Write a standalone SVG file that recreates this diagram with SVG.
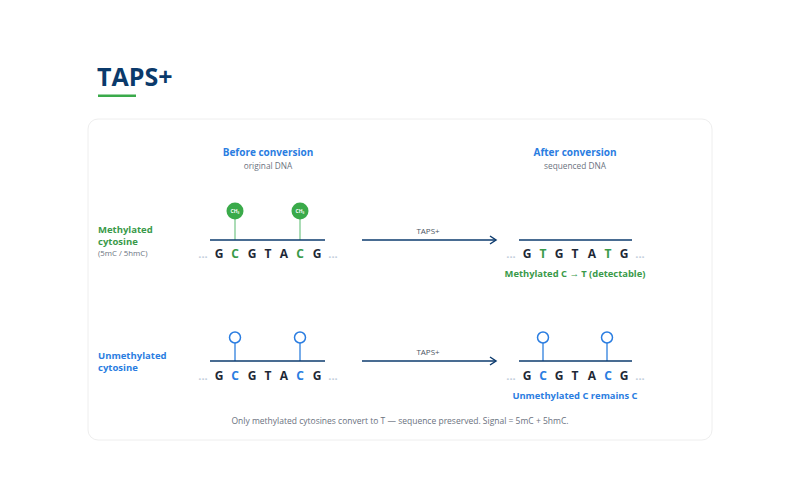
<svg xmlns="http://www.w3.org/2000/svg" width="800" height="500" viewBox="0 0 800 500">
<defs>
<style>
text{font-family:"Open Sans","Noto Sans","Liberation Sans",sans-serif}
.title{font-size:25px;font-weight:700;fill:#0b3a6b}
.head{font-size:10px;font-weight:700;fill:#2a7de1;text-anchor:middle}
.sub{font-size:8.3px;fill:#6b7280;text-anchor:middle}
.lblg{font-size:9.5px;font-weight:700;fill:#3a9a4a}
.lblb{font-size:9.5px;font-weight:700;fill:#2a7de1}
.small{font-size:7.8px;fill:#6b7280}
.base{font-size:12px;font-weight:700;fill:#1f2937;text-anchor:middle}
.bg{fill:#3a9a4a}
.bb{fill:#2a7de1}
.dots{font-size:11px;font-weight:700;fill:#c2cedb;text-anchor:middle}
.strand{stroke:#0d3b6e;stroke-width:1.5}
.stemg{stroke:#8fd19e;stroke-width:1.5}
.stemb{stroke:#4a90e2;stroke-width:1.5}
.ch3{fill:#3aaa4a}
.ch3t{font-size:5px;font-weight:700;fill:#fff;text-anchor:middle}
.open{fill:#fff;stroke:#2a7de1;stroke-width:1.5}
.arrow{stroke:#0d3b6e;stroke-width:1.5;fill:none}
.arrlbl{font-size:8px;fill:#4b5563;text-anchor:middle}
.capg{font-size:9.4px;font-weight:700;fill:#3a9a4a;text-anchor:middle}
.capb{font-size:9.4px;font-weight:700;fill:#2a7de1;text-anchor:middle}
.foot{font-size:8.5px;fill:#6b7280;text-anchor:middle}
</style>
<marker id="ah" markerWidth="10" markerHeight="10" refX="8" refY="5" orient="auto" markerUnits="userSpaceOnUse">
<path d="M2,1 L8,5 L2,9" fill="none" stroke="#0d3b6e" stroke-width="1.5"/>
</marker>
</defs>
<rect width="800" height="500" fill="#fff"/>
<g id="title">
<text class="title" x="97" y="86">TAPS+</text>
<rect x="98" y="94.5" width="38" height="2.5" fill="#3aaa4a"/>
</g>
<rect id="card" x="88" y="119" width="624" height="321" rx="10" fill="#fff" stroke="#eeeeee"/>
<g id="headers">
<text class="head" x="268" y="156">Before conversion</text>
<text class="sub" x="268" y="169">original DNA</text>
<text class="head" x="575" y="156">After conversion</text>
<text class="sub" x="575" y="169">sequenced DNA</text>
</g>
<g id="label-methylated">
<text class="lblg" x="98" y="233">Methylated</text>
<text class="lblg" x="98" y="245">cytosine</text>
<text class="small" x="98" y="256">(5mC / 5hmC)</text>
</g>
<g id="label-unmethylated">
<text class="lblb" x="98" y="359">Unmethylated</text>
<text class="lblb" x="98" y="371">cytosine</text>
</g>
<g id="before-methylated">
<line class="stemg" x1="235" y1="218" x2="235" y2="240"/>
<line class="stemg" x1="300" y1="218" x2="300" y2="240"/>
<line class="strand" x1="210" y1="240" x2="325" y2="240"/>
<circle class="ch3" cx="235" cy="211" r="8.5"/>
<circle class="ch3" cx="300" cy="211" r="8.5"/>
<text class="ch3t" x="235" y="213">CH₃</text>
<text class="ch3t" x="300" y="213">CH₃</text>
<text class="dots" x="203" y="258">...</text>
<text class="base" x="219" y="258">G</text>
<text class="base bg" x="235" y="258">C</text>
<text class="base" x="252" y="258">G</text>
<text class="base" x="268" y="258">T</text>
<text class="base" x="284" y="258">A</text>
<text class="base bg" x="300" y="258">C</text>
<text class="base" x="317" y="258">G</text>
<text class="dots" x="333" y="258">...</text>
</g>
<g id="after-methylated">
<line class="strand" x1="519" y1="240" x2="632" y2="240"/>
<text class="dots" x="511" y="258">...</text>
<text class="base" x="527" y="258">G</text>
<text class="base bg" x="543" y="258">T</text>
<text class="base" x="559" y="258">G</text>
<text class="base" x="575" y="258">T</text>
<text class="base" x="592" y="258">A</text>
<text class="base bg" x="608" y="258">T</text>
<text class="base" x="624" y="258">G</text>
<text class="dots" x="640" y="258">...</text>
<text class="capg" x="575" y="277">Methylated C → T (detectable)</text>
</g>
<g id="before-unmethylated">
<line class="stemb" x1="235" y1="343" x2="235" y2="361"/>
<line class="stemb" x1="300" y1="343" x2="300" y2="361"/>
<line class="strand" x1="210" y1="361" x2="325" y2="361"/>
<circle class="open" cx="235" cy="337.5" r="5.5"/>
<circle class="open" cx="300" cy="337.5" r="5.5"/>
<text class="dots" x="203" y="380">...</text>
<text class="base" x="219" y="380">G</text>
<text class="base bb" x="235" y="380">C</text>
<text class="base" x="252" y="380">G</text>
<text class="base" x="268" y="380">T</text>
<text class="base" x="284" y="380">A</text>
<text class="base bb" x="300" y="380">C</text>
<text class="base" x="317" y="380">G</text>
<text class="dots" x="333" y="380">...</text>
</g>
<g id="after-unmethylated">
<line class="stemb" x1="543" y1="343" x2="543" y2="361"/>
<line class="stemb" x1="607" y1="343" x2="607" y2="361"/>
<line class="strand" x1="519" y1="361" x2="632" y2="361"/>
<circle class="open" cx="543" cy="337.5" r="5.5"/>
<circle class="open" cx="607" cy="337.5" r="5.5"/>
<text class="dots" x="511" y="380">...</text>
<text class="base" x="527" y="380">G</text>
<text class="base bb" x="543" y="380">C</text>
<text class="base" x="559" y="380">G</text>
<text class="base" x="575" y="380">T</text>
<text class="base" x="592" y="380">A</text>
<text class="base bb" x="608" y="380">C</text>
<text class="base" x="624" y="380">G</text>
<text class="dots" x="640" y="380">...</text>
<text class="capb" x="575" y="399">Unmethylated C remains C</text>
</g>
<g id="connectors">
<line class="arrow" x1="362" y1="240" x2="496" y2="240" marker-end="url(#ah)"/>
<text class="arrlbl" x="428" y="234">TAPS+</text>
<line class="arrow" x1="362" y1="361" x2="496" y2="361" marker-end="url(#ah)"/>
<text class="arrlbl" x="428" y="355">TAPS+</text>
</g>
<text id="footer" class="foot" x="400" y="424">Only methylated cytosines convert to T — sequence preserved. Signal = 5mC + 5hmC.</text>
</svg>
